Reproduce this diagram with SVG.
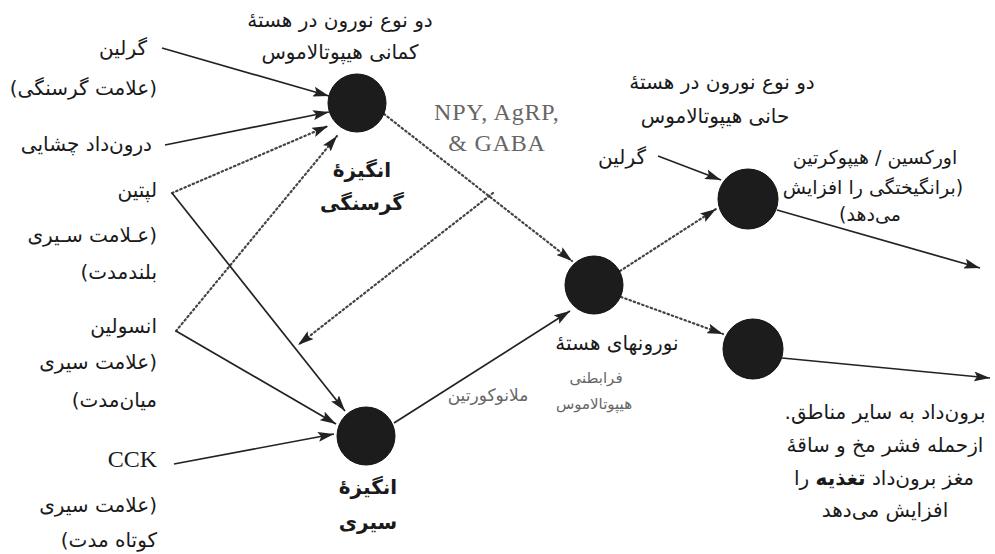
<svg xmlns="http://www.w3.org/2000/svg" width="995" height="554" viewBox="0 0 995 554">
<style>
text{font-family:"DejaVu Sans","Noto Sans",sans-serif;font-size:20px;fill:#1a1a1a}
.r{direction:rtl;text-anchor:start}
.c{direction:rtl;text-anchor:middle}
.b{font-weight:bold}
.g{fill:#666}
.sm{font-size:15px}
.f19{font-size:19px}
.lat{font-family:"Liberation Serif",serif;font-size:24px;direction:ltr}
.node{fill:#1c1c1c;stroke:#111;stroke-width:1}
.s{stroke:#222;stroke-width:1.7;fill:none;marker-end:url(#ah)}
.d{stroke:#444;stroke-width:2.2;fill:none;stroke-dasharray:1.5 3;stroke-linecap:round;marker-end:url(#ah)}
</style>
<defs>
<marker id="ah" markerUnits="userSpaceOnUse" markerWidth="18" markerHeight="10" refX="16" refY="5" orient="auto">
<path d="M0,0 L16,5 L0,10 L3,5 z" fill="#222"/>
</marker>
</defs>
<rect width="995" height="554" fill="#fff"/>
<g id="connectors">
<line class="s" x1="162" y1="48" x2="329" y2="96"/>
<line class="s" x1="165" y1="145" x2="329" y2="112"/>
<line class="d" x1="172" y1="193" x2="328" y2="126"/>
<line class="d" x1="176" y1="331" x2="337" y2="136"/>
<line class="s" x1="172" y1="193" x2="345" y2="411"/>
<line class="s" x1="176" y1="331" x2="336" y2="424"/>
<line class="s" x1="174" y1="464" x2="334" y2="434"/>
<line class="d" x1="384" y1="114" x2="572" y2="261"/>
<line class="d" x1="493" y1="193" x2="298" y2="345"/>
<line class="s" x1="394" y1="423" x2="570" y2="311"/>
<line class="d" x1="620" y1="271" x2="716" y2="209"/>
<line class="d" x1="621" y1="297" x2="723" y2="334"/>
<line class="s" x1="658" y1="156" x2="721" y2="180"/>
<line class="s" x1="777" y1="210" x2="980" y2="268"/>
<line class="s" x1="782" y1="358" x2="990" y2="378"/>
</g>
<g id="ghrelin-in"><text class="r" x="147" y="55">گرلین</text><text class="r" x="157" y="95">(علامت گرسنگی)</text></g>
<g id="taste-in"><text class="r" x="152" y="151">درون‌داد چشایی</text></g>
<g id="leptin-in"><text class="r" x="157" y="197">لپتین</text><text class="r" x="157" y="242">(عـلامت سـیری</text><text class="r" x="157" y="279">بلندمدت)</text></g>
<g id="insulin-in"><text class="r" x="157" y="333">انسولین</text><text class="r" x="157" y="369">(علامت سیری</text><text class="r" x="157" y="407">میان‌مدت)</text></g>
<g id="cck-in"><text class="lat" x="157" y="467" text-anchor="end">CCK</text><text class="r" x="157" y="512">(علامت سیری</text><text class="r" x="157" y="547">کوتاه مدت)</text></g>
<g id="hunger-node">
<circle class="node" cx="357" cy="103" r="29"/>
<text class="c" x="340" y="27">دو نوع نورون در هستهٔ</text>
<text class="c" x="340" y="59">کمانی هیپوتالاموس</text>
<text class="c b" x="362" y="177">انگیزهٔ</text>
<text class="c b" x="362" y="210">گرسنگی</text>
</g>
<g id="npy-label"><text class="lat g" x="434" y="120" style="letter-spacing:0.8px">NPY, AgRP,</text><text class="lat g" x="497" y="151" text-anchor="middle" style="letter-spacing:0.8px">&amp; GABA</text></g>
<g id="satiety-node">
<circle class="node" cx="366" cy="436" r="29"/>
<text class="c b" x="368" y="494">انگیزهٔ</text>
<text class="c b" x="368" y="529">سیری</text>
</g>
<g id="melanocortin-label"><text class="c g" x="488" y="401" style="font-size:17px">ملانوکورتین</text></g>
<g id="pvn-node">
<circle class="node" cx="594" cy="285" r="29"/>
<text class="c" x="617" y="350">نورونهای هستهٔ</text>
<text class="c g sm" x="596" y="383">فرابطنی</text>
<text class="c g sm" x="594" y="409">هیپوتالاموس</text>
</g>
<g id="lh-node">
<circle class="node" cx="748" cy="199" r="30"/>
<text class="c" x="722" y="89">دو نوع نورون در هستهٔ</text>
<text class="c" x="715" y="123">حانی هیپوتالاموس</text>
<text class="c" x="622" y="164">گرلین</text>
<text class="c f19" x="875" y="164">اورکسین / هیپوکرتین</text>
<text class="c f19" x="873" y="194">(برانگیختگی را افزایش</text>
<text class="c f19" x="870" y="221">می‌دهد)</text>
</g>
<g id="other-node">
<circle class="node" cx="753" cy="349" r="30"/>
<text class="c" x="885" y="419">برون‌داد به سایر مناطق.</text>
<text class="c" x="885" y="452">ازحمله فشر مخ و ساقهٔ</text>
<text class="c" x="884" y="485">مغز برون‌داد <tspan class="b">تغذیه</tspan> را</text>
<text class="c" x="885" y="517">افزایش می‌دهد</text>
</g>
</svg>
